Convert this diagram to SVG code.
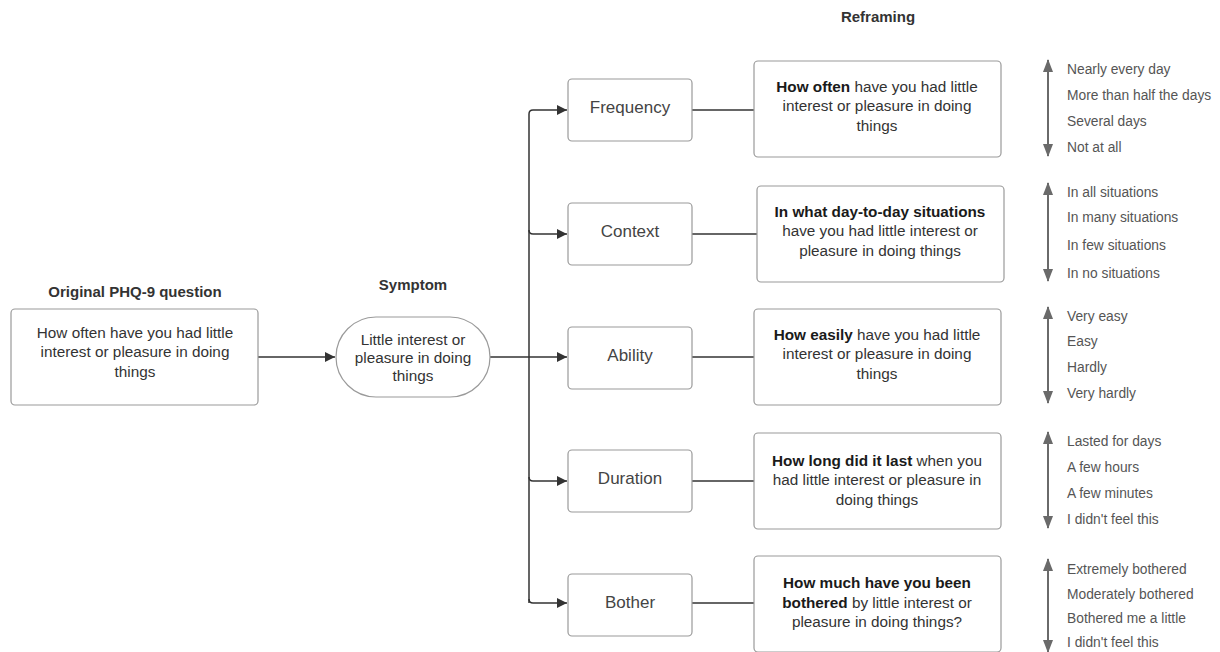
<svg xmlns="http://www.w3.org/2000/svg" width="1220" height="652" viewBox="0 0 1220 652">
<defs>
<style>
text{font-family:"Liberation Sans",Arial,sans-serif;}
.box{fill:#fff;stroke:#9a9a9a;stroke-width:1.2;}
.t{font-size:15.3px;fill:#333;text-anchor:middle;}
.s{font-size:17px;fill:#444;text-anchor:middle;}
.b{font-weight:bold;fill:#1a1a1a;}
.h{font-size:15px;font-weight:bold;fill:#333;text-anchor:middle;}
.lab{font-size:13.8px;fill:#555;}
.con{fill:none;stroke:#333;stroke-width:1.5;}
.scale{stroke:#6a6a6a;stroke-width:2;fill:none;}
</style>
<marker id="arr" viewBox="0 0 10 10" refX="10" refY="5" markerWidth="10" markerHeight="10" markerUnits="userSpaceOnUse" orient="auto"><path d="M0,0 L10,5 L0,10 z" fill="#333"/></marker>
<marker id="sa" viewBox="0 0 13 10" refX="12" refY="5" markerWidth="13" markerHeight="10" markerUnits="userSpaceOnUse" orient="auto-start-reverse"><path d="M0,0 L13,5 L0,10 z" fill="#6a6a6a"/></marker>
</defs>
<rect width="1220" height="652" fill="#fff"/>

<g id="headers">
<text class="h" x="135" y="297">Original PHQ-9 question</text>
<text class="h" x="413" y="290">Symptom</text>
<text class="h" x="878" y="22">Reframing</text>
</g>

<g id="connectors">
<line class="con" x1="258" y1="357" x2="335" y2="357" marker-end="url(#arr)"/>
<line class="con" x1="490" y1="357" x2="529" y2="357"/>
<path class="con" d="M529,603 L529,114 Q529,110 533,110 L567,110" marker-end="url(#arr)"/>
<path class="con" d="M529,230 Q529,234 533,234 L567,234" marker-end="url(#arr)"/>
<line class="con" x1="529" y1="357" x2="567" y2="357" marker-end="url(#arr)"/>
<path class="con" d="M529,477 Q529,481 533,481 L567,481" marker-end="url(#arr)"/>
<path class="con" d="M529,599 Q529,603 533,603 L567,603" marker-end="url(#arr)"/>
<line class="con" x1="692" y1="110" x2="754" y2="110"/>
<line class="con" x1="692" y1="234" x2="757" y2="234"/>
<line class="con" x1="692" y1="357" x2="754" y2="357"/>
<line class="con" x1="692" y1="481" x2="754" y2="481"/>
<line class="con" x1="692" y1="603" x2="754" y2="603"/>
</g>

<g id="original">
<rect class="box" x="11" y="309" width="247" height="96" rx="4"/>
<text class="t" x="135" y="338">How often have you had little</text>
<text class="t" x="135" y="357">interest or pleasure in doing</text>
<text class="t" x="135" y="377">things</text>
</g>

<g id="symptom">
<rect class="box" x="336" y="317" width="154" height="80" rx="40"/>
<text class="t" x="413" y="345">Little interest or</text>
<text class="t" x="413" y="363">pleasure in doing</text>
<text class="t" x="413" y="381">things</text>
</g>

<g id="frequency">
<rect class="box" x="568" y="79" width="124" height="62" rx="4"/>
<text class="s" x="630" y="113">Frequency</text>
</g>
<g id="context">
<rect class="box" x="568" y="203" width="124" height="62" rx="4"/>
<text class="s" x="630" y="237">Context</text>
</g>
<g id="ability">
<rect class="box" x="568" y="327" width="124" height="62" rx="4"/>
<text class="s" x="630" y="361">Ability</text>
</g>
<g id="duration">
<rect class="box" x="568" y="450" width="124" height="62" rx="4"/>
<text class="s" x="630" y="484">Duration</text>
</g>
<g id="bother">
<rect class="box" x="568" y="574" width="124" height="62" rx="4"/>
<text class="s" x="630" y="608">Bother</text>
</g>

<g id="q-frequency">
<rect class="box" x="754" y="61" width="247" height="96" rx="4"/>
<text class="t" x="877" y="92"><tspan class="b">How often</tspan> have you had little</text>
<text class="t" x="877" y="111">interest or pleasure in doing</text>
<text class="t" x="877" y="131">things</text>
</g>
<g id="q-context">
<rect class="box" x="757" y="186" width="247" height="96" rx="4"/>
<text class="t" x="880" y="217"><tspan class="b">In what day-to-day situations</tspan></text>
<text class="t" x="880" y="236">have you had little interest or</text>
<text class="t" x="880" y="256">pleasure in doing things</text>
</g>
<g id="q-ability">
<rect class="box" x="754" y="309" width="247" height="96" rx="4"/>
<text class="t" x="877" y="340"><tspan class="b">How easily</tspan> have you had little</text>
<text class="t" x="877" y="359">interest or pleasure in doing</text>
<text class="t" x="877" y="379">things</text>
</g>
<g id="q-duration">
<rect class="box" x="754" y="433" width="247" height="96" rx="4"/>
<text class="t" x="877" y="466"><tspan class="b">How long did it last</tspan> when you</text>
<text class="t" x="877" y="485">had little interest or pleasure in</text>
<text class="t" x="877" y="505">doing things</text>
</g>
<g id="q-bother">
<rect class="box" x="754" y="556" width="247" height="96" rx="4"/>
<text class="t" x="877" y="588"><tspan class="b">How much have you been</tspan></text>
<text class="t" x="877" y="608"><tspan class="b">bothered</tspan> by little interest or</text>
<text class="t" x="877" y="627">pleasure in doing things?</text>
</g>

<g id="scale-frequency">
<line class="scale" x1="1048" y1="60" x2="1048" y2="156" marker-start="url(#sa)" marker-end="url(#sa)"/>
<text class="lab" x="1067" y="74">Nearly every day</text>
<text class="lab" x="1067" y="100">More than half the days</text>
<text class="lab" x="1067" y="126">Several days</text>
<text class="lab" x="1067" y="152">Not at all</text>
</g>
<g id="scale-context">
<line class="scale" x1="1048" y1="183" x2="1048" y2="281" marker-start="url(#sa)" marker-end="url(#sa)"/>
<text class="lab" x="1067" y="197">In all situations</text>
<text class="lab" x="1067" y="222">In many situations</text>
<text class="lab" x="1067" y="250">In few situations</text>
<text class="lab" x="1067" y="278">In no situations</text>
</g>
<g id="scale-ability">
<line class="scale" x1="1048" y1="307" x2="1048" y2="403" marker-start="url(#sa)" marker-end="url(#sa)"/>
<text class="lab" x="1067" y="321">Very easy</text>
<text class="lab" x="1067" y="346">Easy</text>
<text class="lab" x="1067" y="372">Hardly</text>
<text class="lab" x="1067" y="398">Very hardly</text>
</g>
<g id="scale-duration">
<line class="scale" x1="1048" y1="432" x2="1048" y2="528" marker-start="url(#sa)" marker-end="url(#sa)"/>
<text class="lab" x="1067" y="446">Lasted for days</text>
<text class="lab" x="1067" y="472">A few hours</text>
<text class="lab" x="1067" y="498">A few minutes</text>
<text class="lab" x="1067" y="524">I didn't feel this</text>
</g>
<g id="scale-bother">
<line class="scale" x1="1048" y1="559" x2="1048" y2="652" marker-start="url(#sa)" marker-end="url(#sa)"/>
<text class="lab" x="1067" y="574">Extremely bothered</text>
<text class="lab" x="1067" y="599">Moderately bothered</text>
<text class="lab" x="1067" y="623">Bothered me a little</text>
<text class="lab" x="1067" y="647">I didn't feel this</text>
</g>
</svg>
